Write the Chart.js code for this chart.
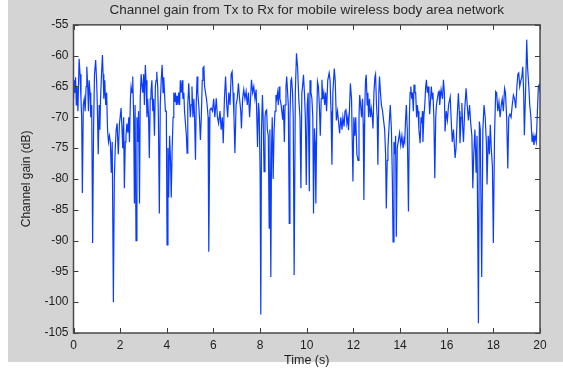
<!DOCTYPE html>
<html>
<head>
<meta charset="utf-8">
<script src="https://cdn.jsdelivr.net/npm/chart.js@4.4.1/dist/chart.umd.min.js"></script>
<style>
  html, body { margin: 0; padding: 0; background: #ffffff; }
  canvas { display: block; }
</style>
</head>
<body>
<canvas id="gainChart" width="563" height="368"></canvas>
<script>
// time axis (s) and channel gain (dB)
const times = [
  0.00, 0.03, 0.06, 0.09, 0.12, 0.15, 0.19, 0.24, 0.28, 0.32, 0.35, 0.38, 0.42, 0.46, 0.50, 0.54, 0.57, 0.61, 0.64, 0.67,
  0.71, 0.74, 0.78, 0.82, 0.86, 0.90, 0.95, 0.99, 1.02, 1.06, 1.10, 1.13, 1.16, 1.20, 1.24, 1.27, 1.30, 1.34, 1.38, 1.42,
  1.46, 1.50, 1.54, 1.58, 1.62, 1.66, 1.71, 1.75, 1.79, 1.83, 1.87, 1.92, 1.97, 2.00, 2.04, 2.08, 2.11, 2.15, 2.18, 2.22,
  2.25, 2.29, 2.33, 2.37, 2.40, 2.44, 2.47, 2.51, 2.54, 2.58, 2.61, 2.64, 2.68, 2.72, 2.75, 2.79, 2.83, 2.86, 2.90, 2.94,
  2.97, 3.01, 3.04, 3.08, 3.11, 3.15, 3.18, 3.22, 3.25, 3.29, 3.32, 3.36, 3.40, 3.43, 3.47, 3.51, 3.54, 3.57, 3.61, 3.64,
  3.68, 3.72, 3.76, 3.80, 3.84, 3.87, 3.90, 3.94, 3.98, 4.01, 4.05, 4.08, 4.12, 4.16, 4.19, 4.23, 4.27, 4.30, 4.34, 4.37,
  4.41, 4.44, 4.48, 4.51, 4.55, 4.58, 4.62, 4.66, 4.69, 4.73, 4.76, 4.80, 4.84, 4.87, 4.90, 4.94, 4.97, 5.01, 5.04, 5.08,
  5.12, 5.16, 5.19, 5.23, 5.26, 5.30, 5.33, 5.37, 5.40, 5.44, 5.48, 5.52, 5.55, 5.59, 5.62, 5.66, 5.70, 5.73, 5.77, 5.80,
  5.85, 5.90, 5.96, 6.01, 6.06, 6.12, 6.17, 6.22, 6.28, 6.33, 6.38, 6.42, 6.47, 6.52, 6.57, 6.61, 6.66, 6.71, 6.76, 6.80,
  6.84, 6.88, 6.92, 6.97, 7.02, 7.07, 7.12, 7.17, 7.20, 7.25, 7.30, 7.35, 7.40, 7.45, 7.50, 7.55, 7.59, 7.63, 7.68, 7.73,
  7.78, 7.83, 7.89, 7.93, 7.96, 8.00, 8.03, 8.06, 8.10, 8.13, 8.17, 8.21, 8.24, 8.28, 8.31, 8.35, 8.39, 8.42, 8.46, 8.49,
  8.52, 8.56, 8.60, 8.64, 8.68, 8.71, 8.75, 8.78, 8.82, 8.85, 8.89, 8.93, 8.97, 9.00, 9.04, 9.07, 9.11, 9.14, 9.18, 9.21,
  9.25, 9.28, 9.32, 9.35, 9.39, 9.42, 9.46, 9.51, 9.56, 9.61, 9.66, 9.71, 9.75, 9.79, 9.82, 9.86, 9.90, 9.94, 9.98, 10.02,
  10.06, 10.11, 10.14, 10.18, 10.22, 10.26, 10.29, 10.33, 10.36, 10.39, 10.43, 10.46, 10.50, 10.54, 10.58, 10.62, 10.65, 10.69, 10.73, 10.77,
  10.81, 10.85, 10.90, 10.96, 11.00, 11.04, 11.08, 11.12, 11.18, 11.22, 11.27, 11.32, 11.37, 11.41, 11.46, 11.51, 11.55, 11.60, 11.64, 11.68,
  11.72, 11.76, 11.79, 11.83, 11.87, 11.92, 11.98, 12.02, 12.06, 12.10, 12.15, 12.20, 12.24, 12.27, 12.31, 12.35, 12.39, 12.42, 12.45, 12.49,
  12.52, 12.55, 12.59, 12.62, 12.65, 12.69, 12.73, 12.77, 12.81, 12.84, 12.88, 12.92, 12.95, 12.99, 13.02, 13.05, 13.09, 13.12, 13.16, 13.20,
  13.25, 13.30, 13.34, 13.38, 13.41, 13.45, 13.48, 13.52, 13.55, 13.58, 13.63, 13.67, 13.70, 13.74, 13.78, 13.81, 13.84, 13.88, 13.93, 13.98,
  14.03, 14.08, 14.13, 14.17, 14.20, 14.24, 14.27, 14.31, 14.36, 14.40, 14.43, 14.46, 14.50, 14.53, 14.57, 14.60, 14.64, 14.67, 14.71, 14.74,
  14.77, 14.81, 14.86, 14.90, 14.93, 14.96, 14.98, 15.02, 15.06, 15.10, 15.13, 15.17, 15.20, 15.24, 15.27, 15.31, 15.34, 15.38, 15.41, 15.45,
  15.49, 15.53, 15.56, 15.60, 15.64, 15.67, 15.70, 15.76, 15.82, 15.86, 15.90, 15.93, 15.98, 16.03, 16.08, 16.15, 16.20, 16.24, 16.29, 16.36,
  16.40, 16.45, 16.50, 16.54, 16.57, 16.62, 16.65, 16.69, 16.72, 16.77, 16.83, 16.88, 16.93, 16.98, 17.03, 17.08, 17.12, 17.16, 17.21, 17.26,
  17.30, 17.36, 17.40, 17.44, 17.50, 17.55, 17.60, 17.65, 17.70, 17.73, 17.78, 17.83, 17.87, 17.91, 17.96, 18.00, 18.05, 18.10, 18.14, 18.19,
  18.24, 18.29, 18.34, 18.38, 18.43, 18.48, 18.52, 18.57, 18.62, 18.66, 18.71, 18.76, 18.81, 18.86, 18.91, 18.96, 19.01, 19.05, 19.09, 19.13,
  19.18, 19.22, 19.26, 19.30, 19.33, 19.38, 19.43, 19.47, 19.52, 19.56, 19.61, 19.66, 19.70, 19.74, 19.79, 19.84, 19.88, 19.93, 19.97, 20.00
];

const gains = [
  -67, -64, -66, -63.5, -68, -65, -69, -60.5, -63, -67, -70, -82.3, -68, -67, -69, -65, -61.8, -65, -69, -64,
  -66, -70, -68, -90.4, -72, -63, -60.7, -64, -68, -76, -68, -72, -67, -63, -59.9, -63, -67, -64, -68, -66,
  -72, -74, -73, -74, -79, -74, -100, -80, -75, -72, -71, -76, -71, -70, -68.5, -72, -75, -70, -81.5, -74,
  -73, -71, -72.5, -70, -74, -67, -65, -66, -63.4, -70, -84, -68, -90, -70, -74, -69, -84, -67, -63, -65,
  -66, -63, -68, -61.5, -64, -70, -67, -70, -76.6, -67, -66, -64, -69, -67, -73, -65, -64, -62.6, -65, -70,
  -85.6, -68, -64, -61.5, -66, -63.5, -66, -69, -69, -90.7, -75, -83, -73, -77, -83, -75, -70, -66, -67.5, -66,
  -68, -66.5, -68, -66, -68, -64, -66, -64, -67, -66, -69, -71, -73, -75.8, -68, -64.5, -67, -70, -68, -65,
  -70, -67, -70, -76.9, -68, -63.4, -66, -68, -70, -73.7, -70, -64, -62, -61.8, -65, -66, -67, -68, -70, -91.8,
  -68.8, -68.5, -69, -67, -70, -66.9, -70, -71, -69, -72, -70, -74.2, -67, -63.4, -68, -70, -66, -68, -63, -62.6,
  -66, -70, -75.8, -68, -67, -64.5, -67, -69, -71.8, -67, -65.5, -67, -65.8, -68, -66, -70, -67, -63.9, -66, -65,
  -67, -65.5, -74.8, -67.7, -69, -78.8, -102, -72, -66.4, -70, -78.8, -70, -69, -68.8, -72, -73, -88, -72, -95.9, -75,
  -70, -80, -72, -69, -66.4, -67, -66, -68, -65, -67, -67.7, -69, -70.4, -68, -74, -68, -65, -63.4, -66, -68,
  -87.2, -70, -64, -63.7, -66, -70, -95.6, -66, -59.6, -62, -67.2, -70, -81.5, -66, -65, -63.1, -66, -70, -81, -68,
  -66, -82, -64, -66, -66.9, -70, -85.6, -71.8, -74, -84, -70, -64.2, -65, -68, -73, -67, -63.9, -67, -66, -68,
  -66, -69, -64, -62.8, -64, -69, -77.7, -66, -62.1, -64, -70.5, -69, -71, -72.6, -70, -72, -70, -71.5, -69, -68.6,
  -71, -70, -72.1, -69, -64.5, -67, -80.4, -70, -73, -70, -76, -77, -70, -66.4, -68, -70, -67, -71, -83.4, -68,
  -64, -63.1, -68, -66, -70, -67, -70, -68.6, -70, -71.8, -66, -63.5, -63, -68, -70, -77.7, -66, -63.4, -66, -68,
  -69, -70.7, -72, -76, -84.8, -77, -75, -72, -70, -68, -72, -80, -90.2, -74, -76, -73, -89.4, -75, -73.7, -72.5,
  -74.5, -73, -75, -73.5, -74, -70, -68, -72, -85.3, -70, -66, -65, -67, -66, -69, -64.7, -66, -66, -70, -68,
  -69, -72, -74.2, -70, -71, -69, -74, -70, -68, -65, -63.9, -66, -65, -67, -69.5, -67, -65, -67, -66, -70,
  -79.9, -70, -68, -67, -66, -65.8, -68, -65.5, -67, -63.9, -66, -72.3, -69, -70.5, -68, -66.7, -71, -74, -72, -76.6,
  -75, -70, -66.1, -69, -74.2, -70, -67.7, -72, -74, -69, -65.3, -68, -70.5, -68, -71, -73, -81.5, -76, -72, -79,
  -73, -103.4, -70.7, -72, -95.9, -72, -68, -70, -74, -80.9, -73, -76, -71.2, -75, -78, -90.4, -73, -65.8, -66, -69,
  -67.5, -70, -68, -67, -69, -65.3, -66, -70, -78.3, -70, -69.5, -70, -68, -66.4, -67, -68.5, -65, -63, -62.8, -65,
  -64, -63.5, -61.8, -66, -72.9, -66, -57.4, -62, -65, -68, -70, -74, -73, -74.5, -73, -74, -70, -65, -64.7, -66
];

const xTickStep = 2;      // 0, 2, ... 20
const yTickStep = 5;      // -105 ... -55
const xRange = [0, 20];
const yRange = [-105, -55];

const FONT = "'Liberation Sans', Arial, Helvetica, sans-serif";
const TEXT = "#1e1e1e";

const matlabAxes = {
  id: "matlabAxes",
  beforeDraw(chart) {
    const { ctx, chartArea: a } = chart;
    ctx.save();
    ctx.fillStyle = "#ffffff";
    ctx.fillRect(0, 0, chart.width, chart.height);
    ctx.fillStyle = "#d4d4d4";
    ctx.fillRect(8, 0, chart.width - 8, 362);
    ctx.fillStyle = "#ffffff";
    ctx.fillRect(a.left, a.top, a.right - a.left, a.bottom - a.top);
    ctx.restore();
  },
  afterDraw(chart) {
    const { ctx, chartArea: a, scales } = chart;
    const len = 5;
    ctx.save();
    ctx.strokeStyle = "#3a3a3a";
    ctx.lineWidth = 1;
    ctx.beginPath();
    scales.x.ticks.forEach((t, i) => {
      const px = Math.round(scales.x.getPixelForTick(i)) + 0.5;
      ctx.moveTo(px, a.bottom); ctx.lineTo(px, a.bottom - len);
      ctx.moveTo(px, a.top); ctx.lineTo(px, a.top + len);
    });
    scales.y.ticks.forEach((t, i) => {
      const py = Math.round(scales.y.getPixelForTick(i)) + 0.5;
      ctx.moveTo(a.left, py); ctx.lineTo(a.left + len, py);
      ctx.moveTo(a.right, py); ctx.lineTo(a.right - len, py);
    });
    ctx.stroke();
    ctx.lineWidth = 1.5;
    ctx.strokeStyle = "#4a4a4a";
    ctx.strokeRect(a.left, a.top, a.right - a.left, a.bottom - a.top);
    ctx.restore();
  }
};

const points = times.map((t, i) => ({ x: t, y: gains[i] }));

new Chart(document.getElementById("gainChart"), {
  type: "line",
  data: {
    datasets: [{
      data: points,
      borderColor: "#0a3cff",
      borderWidth: 1.2,
      pointRadius: 0,
      tension: 0,
      fill: false
    }]
  },
  options: {
    responsive: false,
    devicePixelRatio: 1,
    animation: false,
    layout: { padding: { left: 8, right: 23, top: 0, bottom: 0 } },
    plugins: {
      legend: { display: false },
      tooltip: { enabled: false },
      title: {
        display: true,
        fullSize: false,
        text: "Channel gain from Tx to Rx for mobile wireless body area network",
        color: "#2a2a2a",
        font: { family: FONT, size: 13.5, weight: "normal", lineHeight: 1.1 },
        padding: { top: 3, bottom: 7 }
      }
    },
    scales: {
      x: {
        type: "linear",
        min: xRange[0],
        max: xRange[1],
        grid: { display: false, drawTicks: false },
        border: { display: false },
        ticks: { stepSize: xTickStep, padding: 5, color: TEXT, font: { family: FONT, size: 12 }, maxRotation: 0 },
        title: { display: true, text: "Time (s)", color: TEXT, font: { family: FONT, size: 12.5 }, padding: { top: 0, bottom: 0 } },
        afterFit(scale) { scale.height = 35; }
      },
      y: {
        type: "linear",
        min: yRange[0],
        max: yRange[1],
        grid: { display: false, drawTicks: false },
        border: { display: false },
        ticks: { stepSize: yTickStep, padding: 5, color: TEXT, font: { family: FONT, size: 12 } },
        title: { display: true, text: "Channel gain (dB)", color: TEXT, font: { family: FONT, size: 12 }, padding: { top: 11, bottom: 0 } },
        afterFit(scale) { scale.width = 65.5; }
      }
    }
  },
  plugins: [matlabAxes]
});
</script>
</body>
</html>
